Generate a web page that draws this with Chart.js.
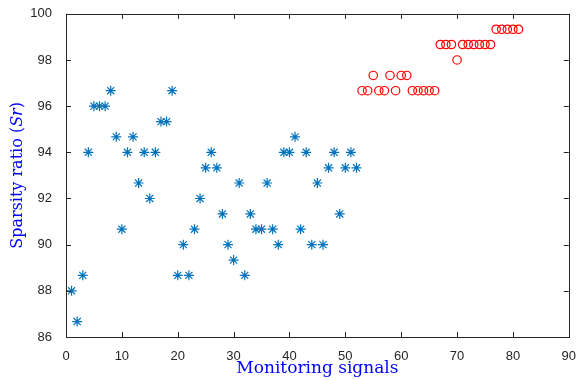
<!DOCTYPE html>
<html>
<head>
<meta charset="utf-8">
<script src="https://cdn.jsdelivr.net/npm/chart.js@4"></script>
<style>
    html, body { margin: 0; padding: 0; background: #fff; }
    #wrap { width: 580px; height: 380px; position: relative; }
</style>
</head>
<body>
<div id="wrap"><canvas id="chart1" width="580" height="380"></canvas></div>
<script>
// data

const blueX = [];
for (let i = 1; i <= 52; i++) blueX.push(i);
const blueY = [88, 86.67, 88.67, 94, 96, 96, 96, 96.67, 94.67, 90.67,
    94, 94.67, 92.67, 94, 92, 94, 95.33, 95.33, 96.67, 88.67,
    90, 88.67, 90.67, 92, 93.33, 94, 93.33, 91.33, 90, 89.33,
    92.67, 88.67, 91.33, 90.67, 90.67, 92.67, 90.67, 90, 94, 94,
    94.67, 90.67, 94, 90, 92.67, 90, 93.33, 94, 91.33, 93.33,
    94, 93.33];

const redX = [];
for (let i = 53; i <= 81; i++) redX.push(i);
const redY = [96.67, 96.67, 97.33, 96.67, 96.67, 97.33, 96.67, 97.33, 97.33, 96.67,
    96.67, 96.67, 96.67, 96.67, 98.67, 98.67, 98.67, 98, 98.67, 98.67,
    98.67, 98.67, 98.67, 98.67, 99.33, 99.33, 99.33, 99.33, 99.33];

const xTicks = [0, 10, 20, 30, 40, 50, 60, 70, 80, 90];
const yTicks = [86, 88, 90, 92, 94, 96, 98, 100];

const axisColor = '#262626';
const titleFont = '16px "DejaVu Serif"';
const titleFontIt = 'italic 16px "DejaVu Serif"';

// box + inward ticks like matlab
const boxPlugin = {
    id: 'box',
    afterDraw(chart) {
        const ctx = chart.ctx;
        const a = chart.chartArea;
        const xs = chart.scales.x;
        const ys = chart.scales.y;
        ctx.save();
        ctx.strokeStyle = axisColor;
        ctx.lineWidth = 1;
        ctx.strokeRect(Math.round(a.left) + 0.5, Math.round(a.top) + 0.5,
            Math.round(a.right - a.left), Math.round(a.bottom - a.top));
        ctx.beginPath();
        xTicks.forEach(v => {
            let px = Math.round(xs.getPixelForValue(v)) + 0.5;
            ctx.moveTo(px, a.bottom); ctx.lineTo(px, a.bottom - 5);
            ctx.moveTo(px, a.top); ctx.lineTo(px, a.top + 5);
        });
        yTicks.forEach(v => {
            let py = Math.round(ys.getPixelForValue(v)) + 0.5;
            ctx.moveTo(a.left, py); ctx.lineTo(a.left + 5, py);
            ctx.moveTo(a.right, py); ctx.lineTo(a.right - 5, py);
        });
        ctx.stroke();

        // y title with italic Sr
        const parts = [['Sparsity ratio (', titleFont], ['Sr', titleFontIt], [')', titleFont]];
        let total = 0;
        parts.forEach(p => { ctx.font = p[1]; total += ctx.measureText(p[0]).width; });
        ctx.translate(18, (a.top + a.bottom) / 2);
        ctx.rotate(-Math.PI / 2);
        ctx.fillStyle = '#0000ff';
        ctx.textBaseline = 'middle';
        ctx.textAlign = 'left';
        let cx = -total / 2;
        parts.forEach(p => {
            ctx.font = p[1];
            ctx.fillText(p[0], cx, 0);
            cx += ctx.measureText(p[0]).width;
        });
        ctx.restore();
    }
};

let chart1 = new Chart(document.getElementById("chart1"), {
    type: 'scatter',
    data: {
        datasets: [{
            data: blueX.map((x, i) => ({ x: x, y: blueY[i] })),
            pointStyle: 'star',
            radius: 5,
            borderColor: '#0072BD',
            backgroundColor: '#0072BD',
            borderWidth: 1.2
        }, {
            data: redX.map((x, i) => ({ x: x, y: redY[i] })),
            pointStyle: 'circle',
            radius: 4.2,
            borderColor: '#ff0000',
            backgroundColor: 'rgba(0,0,0,0)',
            borderWidth: 1.2
        }]
    },
    options: {
        responsive: false,
        animation: false,
        layout: { padding: { top: 12, right: 7, left: 0, bottom: 0 } },
        plugins: { legend: { display: false }, tooltip: { enabled: false } },
        scales: {
            x: {
                type: 'linear',
                min: 0, max: 90,
                afterBuildTicks: s => { s.ticks = xTicks.map(v => ({ value: v })); },
                afterFit: s => { s.height = 43; },
                grid: { display: false },
                border: { display: false },
                ticks: { color: axisColor, padding: 4, font: { family: 'Liberation Sans', size: 13 } },
                title: {
                    display: true,
                    text: 'Monitoring signals',
                    color: '#0000ff',
                    padding: { top: 0, bottom: 1 },
                    font: { family: 'DejaVu Serif', size: 17 }
                }
            },
            y: {
                type: 'linear',
                min: 86, max: 100,
                afterBuildTicks: s => { s.ticks = yTicks.map(v => ({ value: v })); },
                afterFit: s => { s.width = 66; },
                grid: { display: false },
                border: { display: false },
                ticks: { color: axisColor, padding: 6, font: { family: 'Liberation Sans', size: 13 } }
            }
        }
    },
    plugins: [boxPlugin]
});
</script>
</body>
</html>
